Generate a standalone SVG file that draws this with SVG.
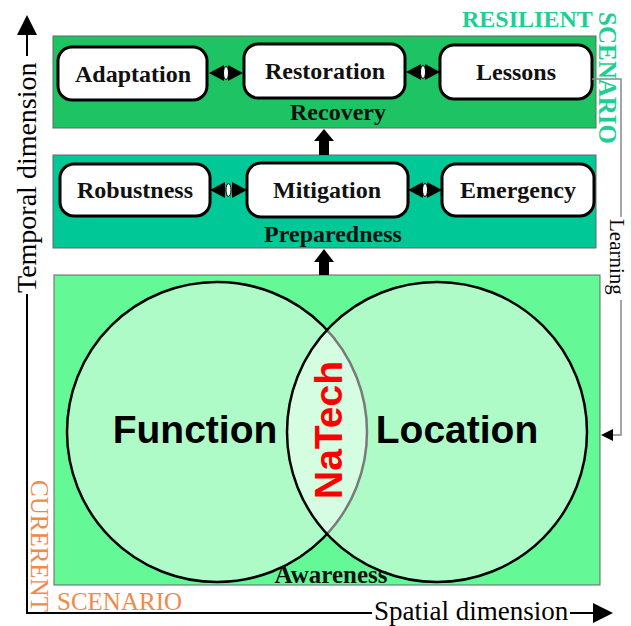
<svg xmlns="http://www.w3.org/2000/svg" width="631" height="626" viewBox="0 0 631 626">
<defs>
<style>
.stage{stroke:#666;stroke-width:1}
.node{fill:#fff;stroke:#000;stroke-width:3}
.lbl{font-family:"Liberation Serif",serif;font-weight:bold;font-size:24px;fill:#111;text-anchor:middle}
.big{font-family:"Liberation Sans",Arial,sans-serif;font-weight:bold;font-size:39px;fill:#000;text-anchor:middle}
.axis{font-family:"Liberation Serif",serif;font-size:27px;fill:#000}
.orange{font-family:"Liberation Serif",serif;font-size:25px;fill:#f08a4b}
.teal{font-family:"Liberation Serif",serif;font-weight:bold;font-size:25px;fill:#1dcf95}
</style>
</defs>

<!-- stage backgrounds -->
<g id="recovery">
<rect class="stage" x="53" y="36" width="543" height="92" fill="#1ec364"/>
<text class="lbl" x="338" y="120">Recovery</text>
</g>
<g id="preparedness">
<rect class="stage" x="53" y="155" width="543" height="93" fill="#00c896"/>
<text class="lbl" x="333" y="242">Preparedness</text>
</g>
<g id="awareness">
<rect class="stage" x="54" y="275" width="546" height="310" fill="#64f896"/>
</g>

<!-- circles -->
<g id="function">
<circle cx="217" cy="432" r="150" fill="#fff" fill-opacity="0.48" stroke="#000" stroke-width="2.5"/>
</g>
<g id="location">
<circle cx="437" cy="432" r="150" fill="#fff" fill-opacity="0.48" stroke="#000" stroke-width="2.5"/>
</g>
<g id="labels-venn">
<text class="big" x="195" y="443">Function</text>
<text class="big" x="457" y="443">Location</text>
<text class="big" x="0" y="0" style="fill:#f00" transform="translate(342,430) rotate(-90)">NaTech</text>
<text class="lbl" x="331" y="583" style="font-size:25px">Awareness</text>
</g>

<!-- nodes -->
<g id="adaptation"><rect class="node" x="58" y="47" width="149" height="53" rx="14"/><text class="lbl" x="133" y="82">Adaptation</text></g>
<g id="restoration"><rect class="node" x="244" y="44" width="161" height="54" rx="14"/><text class="lbl" x="325" y="79">Restoration</text></g>
<g id="lessons"><rect class="node" x="440" y="45" width="152" height="54" rx="14"/><text class="lbl" x="516" y="80">Lessons</text></g>
<g id="robustness"><rect class="node" x="60" y="164" width="150" height="52" rx="14"/><text class="lbl" x="135" y="198">Robustness</text></g>
<g id="mitigation"><rect class="node" x="247" y="163" width="161" height="54" rx="14"/><text class="lbl" x="327" y="198">Mitigation</text></g>
<g id="emergency"><rect class="node" x="442" y="164" width="152" height="52" rx="14"/><text class="lbl" x="518" y="198">Emergency</text></g>

<!-- connectors -->
<g id="connectors">
<g id="dbl-arrows" fill="#000">
<path d="M209,73 L224,65 L224,81 Z"/><path d="M243,73 L228,65 L228,81 Z"/>
<ellipse cx="226" cy="73" rx="2.5" ry="6.5" fill="#fff" stroke="#000" stroke-width="1"/>
<path d="M406,72 L421,64 L421,80 Z"/><path d="M440,72 L425,64 L425,80 Z"/>
<ellipse cx="423" cy="72" rx="2.5" ry="6.5" fill="#fff" stroke="#000" stroke-width="1"/>
<path d="M210,190 L225,182 L225,198 Z"/><path d="M247,190 L232,182 L232,198 Z"/>
<ellipse cx="228.5" cy="190" rx="2.5" ry="6.5" fill="#fff" stroke="#000" stroke-width="1"/>
<path d="M408,190 L423,182 L423,198 Z"/><path d="M442,190 L427,182 L427,198 Z"/>
<ellipse cx="425" cy="190" rx="2.5" ry="6.5" fill="#fff" stroke="#000" stroke-width="1"/>
</g>
<path d="M324,129 L334,141 L329,141 L329,155 L319,155 L319,141 L314,141 Z" fill="#000"/>
<path d="M324,249 L334,262 L329,262 L329,275 L319,275 L319,262 L314,262 Z" fill="#000"/>
<!-- learning feedback -->
<polyline points="592,79 621,79 621,217" fill="none" stroke="#888" stroke-width="1.5"/>
<polyline points="621,300 621,435 612,435" fill="none" stroke="#888" stroke-width="1.5"/>
<path d="M601,435 L613,429 L613,441 Z" fill="#000"/>
<!-- axes -->
<line x1="27" y1="34" x2="27" y2="56" stroke="#000" stroke-width="2"/>
<path d="M27,15 L37,35 L17,35 Z" fill="#000"/>
<polyline points="27,294 27,613 372,613" fill="none" stroke="#000" stroke-width="2"/>
<line x1="570" y1="613" x2="595" y2="613" stroke="#000" stroke-width="2"/>
<path d="M613,613 L593,603 L593,623 Z" fill="#000"/>
</g>

<!-- free texts -->
<text class="axis" style="font-size:28px" transform="translate(36,293) rotate(-90)">Temporal dimension</text>
<text class="axis" x="374" y="620">Spatial dimension</text>
<text class="axis" style="font-size:21px" transform="translate(610,219) rotate(90)">Learning</text>
<text class="teal" style="font-size:24px" x="462" y="27">RESILIENT</text>
<text class="teal" transform="translate(599,12) rotate(90)">SCENARIO</text>
<text class="orange" transform="translate(31,480) rotate(90)">CURERENT</text>
<text class="orange" x="57" y="610">SCENARIO</text>
</svg>
